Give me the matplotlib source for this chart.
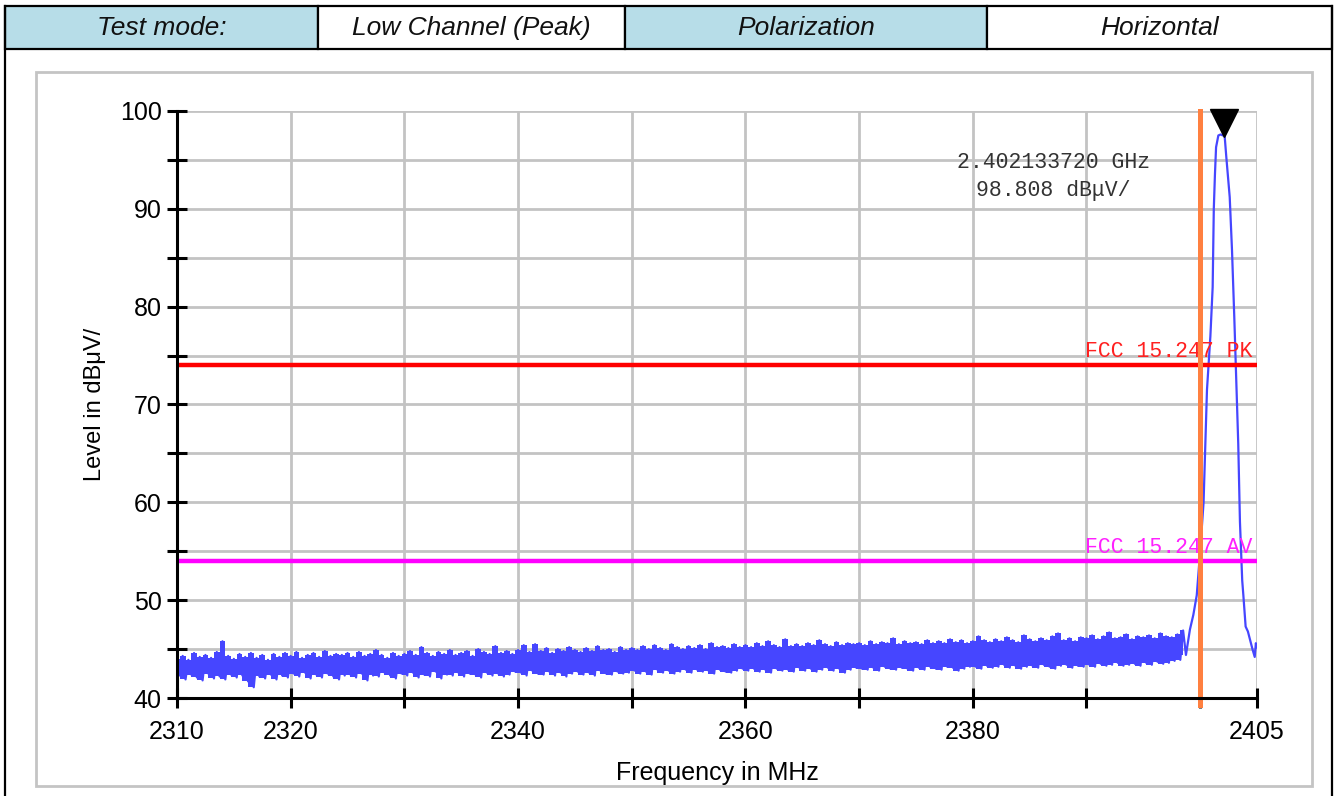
import numpy as np
import matplotlib
matplotlib.use("Agg")
import matplotlib.pyplot as plt
from matplotlib.patches import Rectangle
from matplotlib.lines import Line2D

# Header row of the test report
header_labels = ["Test mode:", "Low Channel (Peak)", "Polarization", "Horizontal"]

# Sweep settings
f_start, f_stop, f_step = 2310.0, 2398.75, 0.25

# Noise floor trace (dBuV/m), one value per sweep point
noise_level = [
    44.0, 42.3, 44.3, 41.9, 43.9, 42.4, 44.6, 42.1, 44.2, 41.8, 44.4, 42.5, 44.1, 42.0, 44.7, 42.2, 45.8, 41.9, 44.3, 42.4,
    44.0, 42.1, 44.5, 42.3, 44.2, 41.7, 44.6, 41.1, 44.1, 42.2, 44.4, 42.0, 43.9, 42.4, 44.5, 41.9, 44.2, 42.3, 44.6, 42.1,
    44.3, 42.5, 44.7, 42.2, 44.1, 42.6, 44.4, 42.0, 44.6, 42.4, 44.2, 42.1, 44.8, 42.5, 44.3, 42.2, 44.5, 41.9, 44.4, 42.3,
    44.6, 42.4, 44.2, 42.1, 44.7, 42.5, 44.3, 41.8, 44.5, 42.3, 44.9, 42.2, 44.4, 42.6, 44.1, 42.3, 44.6, 42.0, 44.3, 42.5,
    44.5, 42.3, 44.8, 42.6, 44.4, 42.1, 45.2, 42.4, 44.6, 42.2, 44.3, 42.7, 44.7, 42.0, 44.5, 42.4, 44.9, 42.3, 44.4, 42.6,
    44.6, 42.2, 44.8, 42.5, 44.3, 42.4, 45.0, 42.1, 44.7, 42.6, 44.5, 42.3, 45.3, 42.5, 44.6, 42.2, 44.8, 42.4, 44.5, 42.7,
    44.9, 42.6, 45.4, 42.3, 44.7, 42.8, 45.5, 42.5, 44.8, 42.4, 45.1, 42.7, 44.6, 42.3, 45.0, 42.6, 44.8, 42.2, 45.2, 42.5,
    44.9, 42.7, 44.7, 42.4, 45.1, 42.6, 44.8, 42.3, 45.3, 42.8, 44.9, 42.5, 45.0, 42.4, 44.7, 42.7, 45.2, 42.5, 44.9, 42.6,
    45.1, 42.8, 44.9, 42.5, 45.3, 42.7, 45.0, 42.4, 45.4, 42.9, 45.1, 42.6, 44.9, 42.8, 45.5, 42.5, 45.2, 42.7, 45.0, 42.9,
    45.3, 42.6, 45.1, 42.9, 45.4, 42.7, 45.0, 42.8, 45.6, 42.5, 45.2, 42.9, 45.3, 42.7, 45.1, 42.6, 45.5, 42.8, 45.2, 43.0,
    45.4, 42.8, 45.2, 43.0, 45.6, 42.7, 45.3, 42.9, 45.8, 42.6, 45.4, 43.0, 45.2, 42.8, 46.0, 42.9, 45.3, 42.7, 45.5, 43.1,
    45.3, 42.8, 45.6, 43.0, 45.4, 42.7, 45.9, 42.9, 45.5, 43.1, 45.3, 42.8, 45.7, 43.0, 45.4, 42.6, 45.6, 42.9, 45.5, 43.1,
    45.6, 43.0, 45.4, 42.9, 45.8, 43.1, 45.5, 42.8, 45.7, 43.2, 45.6, 43.0, 46.1, 42.9, 45.5, 43.1, 45.8, 43.0, 45.6, 42.8,
    45.7, 43.1, 45.5, 42.9, 45.9, 43.2, 45.6, 43.0, 45.8, 42.9, 45.6, 43.2, 46.0, 43.1, 45.7, 42.8, 45.9, 43.0, 45.6, 43.2,
    45.8, 43.2, 46.3, 43.0, 45.9, 43.3, 45.7, 43.1, 46.0, 43.2, 45.8, 43.4, 46.2, 43.1, 45.9, 43.3, 45.7, 43.0, 46.4, 43.2,
    46.0, 43.3, 45.8, 43.1, 46.1, 43.4, 45.9, 43.2, 46.3, 43.0, 46.6, 43.3, 45.9, 43.4, 46.1, 43.1, 45.8, 43.3, 46.2, 43.2,
    46.1, 43.4, 46.4, 43.2, 46.0, 43.5, 46.3, 43.3, 46.7, 43.4, 46.1, 43.6, 46.2, 43.3, 46.5, 43.4, 46.0, 43.5, 46.3, 43.3,
    46.2, 43.6, 46.4, 43.4, 46.1, 43.7, 46.6, 43.5, 46.3, 43.6, 46.2, 43.8, 46.5, 43.9, 46.9, 44.4,
]

# Carrier around 2402 MHz
peak_freq = [2399.1, 2399.4, 2399.7, 2400.0, 2400.3, 2400.5, 2400.6, 2400.9, 2401.1, 2401.2, 2401.3, 2401.4,
             2401.6, 2401.8, 2402.0, 2402.13, 2402.3, 2402.6, 2402.8, 2403.0, 2403.2, 2403.35, 2403.5, 2403.7,
             2403.8, 2404.0, 2404.2, 2404.4, 2404.6, 2404.8, 2404.9, 2405.0]
peak_level = [47.0, 48.5, 50.5, 55.0, 60.0, 67.5, 71.5, 77.0, 82.0, 90.0, 93.5, 96.3,
              97.5, 97.6, 97.5, 97.8, 95.3, 91.2, 85.8, 79.0, 71.5, 66.0, 58.0, 52.0,
              50.5, 47.3, 46.8, 45.9, 45.0, 44.2, 45.6, 45.2]

# Limits and marker
limit_pk = 74.0
limit_av = 54.0
band_edge = 2400.0
marker_freq = 2402.13372
marker_level = 98.808

x_ticks = [2310, 2320, 2330, 2340, 2350, 2360, 2370, 2380, 2390, 2400, 2405]
x_ticklabels = ["2310", "2320", "", "2340", "", "2360", "", "2380", "", "", "2405"]
y_ticks = np.arange(40, 101, 5)
y_ticklabels = [str(v) if v % 10 == 0 else "" for v in y_ticks]

sans = "Liberation Sans"
mono = "Liberation Mono"
trace_color = "#4646ff"

fig = plt.figure(figsize=(13.38, 7.96), dpi=100)
W, H = 1338.0, 796.0


def fx(px):
    return px / W


def fy(py):
    return 1 - py / H


# Header table
cell_edges = [5, 318, 625, 987, 1332]
cell_fill = ["#b7dde8", "white", "#b7dde8", "white"]
for i, label in enumerate(header_labels):
    x0, x1 = cell_edges[i], cell_edges[i + 1]
    fig.add_artist(Rectangle((fx(x0), fy(49)), fx(x1 - x0), (49 - 6) / H,
                             transform=fig.transFigure, facecolor=cell_fill[i],
                             edgecolor="black", linewidth=1.6, zorder=-2))
    fig.text(fx((x0 + x1) / 2), fy(28), label, ha="center", va="center",
             fontsize=19, style="italic", family=sans, color="#111111")
for xp in (5, 1332):
    fig.add_artist(Line2D([fx(xp), fx(xp)], [0, fy(6)], transform=fig.transFigure,
                          color="black", linewidth=1.6, zorder=-2))

# Grey frame around the plot area
fig.add_artist(Rectangle((fx(36), fy(786)), fx(1312 - 36), (786 - 72) / H,
                         transform=fig.transFigure, facecolor="white",
                         edgecolor="#c4c4c4", linewidth=2.0, zorder=-2))

ax = fig.add_axes([fx(177), fy(698), fx(1257 - 177), (698 - 111) / H])
ax.patch.set_alpha(0)

freq = np.arange(f_start, f_stop + f_step / 2, f_step)
noise = np.asarray(noise_level)

# noise floor drawn as a solid band between the max / min sample of each bin
ax.fill_between(freq[0::2], noise[1::2], noise[0::2], step="mid",
                color=trace_color, linewidth=0, zorder=3)
trace_f = np.concatenate([freq, peak_freq])
trace_l = np.concatenate([noise, peak_level])
ax.plot(trace_f, trace_l, color=trace_color, linewidth=1.6, zorder=3)

ax.axhline(limit_pk, color="#ff0000", linewidth=3.2, zorder=4)
ax.axhline(limit_av, color="#ff00ff", linewidth=3.2, zorder=4)
ax.axvline(band_edge, color="#ff8040", linewidth=3.6, zorder=5, clip_on=False,
           ymin=-0.012, ymax=1.0)

ax.text(2404.6, limit_pk + 0.3, "FCC 15.247 PK", color="#ff2020", fontsize=15.5,
        family=mono, ha="right", va="bottom", zorder=4)
ax.text(2404.6, limit_av + 0.3, "FCC 15.247 AV", color="#ff20ff", fontsize=15.5,
        family=mono, ha="right", va="bottom", zorder=4)

ax.plot([marker_freq], [marker_level], marker="v", markersize=20, color="black",
        linestyle="none", zorder=6, clip_on=False)
ax.text(2387.1, 94.7, "2.402133720 GHz", color="#333333", fontsize=15.5,
        family=mono, ha="center", va="center")
ax.text(2387.1, 91.9, "%.3f dBμV/" % marker_level, color="#333333", fontsize=15.5,
        family=mono, ha="center", va="center")

ax.set_xlim(2310, 2405)
ax.set_ylim(40, 100)
ax.set_xticks(x_ticks)
ax.set_xticklabels(x_ticklabels)
ax.set_yticks(y_ticks)
ax.set_yticklabels(y_ticklabels)
ax.grid(True, color="#c3c3c3", linewidth=2.0, zorder=0)
ax.set_axisbelow(True)

for side in ("top", "right"):
    ax.spines[side].set_visible(False)
for side in ("left", "bottom"):
    ax.spines[side].set_linewidth(2.2)
    ax.spines[side].set_zorder(7)
ax.tick_params(direction="inout", length=14, width=2.2, labelsize=18)
ax.tick_params(axis="x", pad=9)
ax.tick_params(axis="y", pad=4)
for lbl in ax.get_xticklabels() + ax.get_yticklabels():
    lbl.set_family(sans)

ax.set_xlabel("Frequency in MHz", fontsize=18, family=sans, labelpad=12)
ax.set_ylabel("Level in dBμV/", fontsize=17, family=sans, labelpad=10)

fig.savefig("out.png", dpi=100)
